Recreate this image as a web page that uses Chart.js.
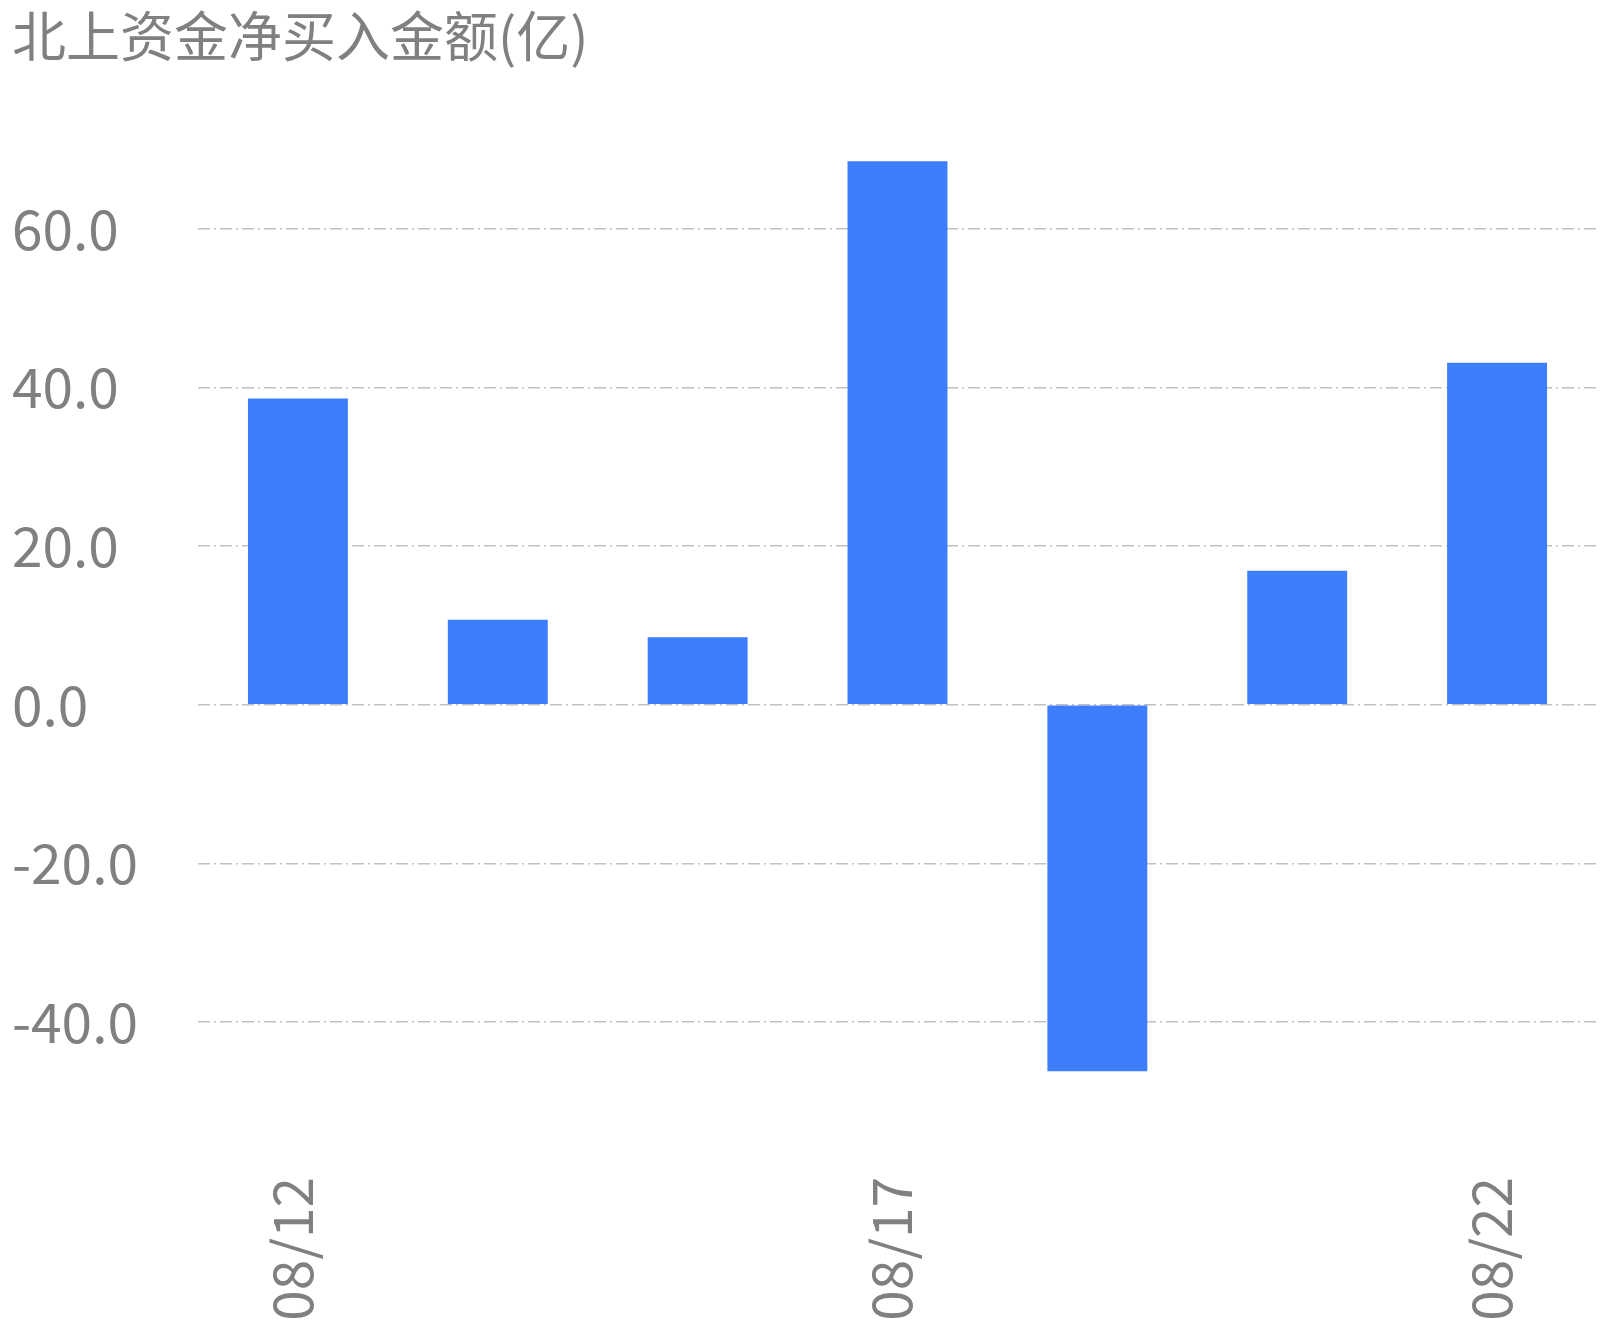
<!DOCTYPE html>
<html>
<head>
<meta charset="utf-8">
<script src="https://cdn.jsdelivr.net/npm/chart.js@4"></script>
<style>
  html, body { margin: 0; padding: 0; background: #fff; }
  #wrap { width: 1606px; height: 1330px; }
</style>
</head>
<body>
<div id="wrap"><canvas id="chart" width="1606" height="1330"></canvas></div>
<script>
const titleText = '北上资金净买入金额(亿)';
const dates = ['08/12', '08/15', '08/16', '08/17', '08/18', '08/19', '08/22'];
const netBuy = [38.6, 10.7, 8.5, 68.5, -46.2, 16.9, 43.1];
const shownDates = ['08/12', '08/17', '08/22'];
const yTicks = [-40, -20, 0, 20, 40, 60];

const FONT = "'Noto Sans CJK SC', 'Noto Sans', sans-serif";
const TEXT = '#808080';

Chart.defaults.font.family = FONT;
Chart.defaults.color = TEXT;

new Chart(document.getElementById('chart'), {
  type: 'bar',
  data: {
    labels: dates,
    datasets: [{
      data: netBuy,
      backgroundColor: '#3d7eff',
      borderWidth: 0,
      barPercentage: 0.5,
      categoryPercentage: 1.0
    }]
  },
  options: {
    responsive: false,
    animation: false,
    layout: { padding: { left: 12, right: 9, top: 0, bottom: 0 } },
    plugins: {
      legend: { display: false },
      tooltip: { enabled: false },
      title: {
        display: true,
        text: titleText,
        align: 'start',
        color: TEXT,
        font: { size: 54, weight: 'normal' },
        padding: { top: 4, bottom: 41 }
      }
    },
    scales: {
      x: {
        grid: { display: false, drawTicks: false },
        border: { display: false },
        afterFit: axis => { axis.height = 189; },
        ticks: {
          autoSkip: false,
          minRotation: 90,
          maxRotation: 90,
          padding: 36,
          labelOffset: -6,
          font: { size: 55 },
          color: TEXT,
          callback: function (value) {
            const lbl = this.getLabelForValue(value);
            return shownDates.includes(lbl) ? lbl : '';
          }
        }
      },
      y: {
        min: -55,
        max: 75,
        afterBuildTicks: axis => {
          axis.ticks = yTicks.map(v => ({ value: v }));
        },
        afterFit: axis => { axis.width = 186; },
        grid: {
          color: '#c0c0c0',
          lineWidth: 1.5,
          drawTicks: false
        },
        border: { display: false, dash: [12, 4, 2, 4] },
        ticks: {
          crossAlign: 'far',
          padding: 0,
          font: { size: 55 },
          color: TEXT,
          callback: v => v.toFixed(1)
        }
      }
    }
  }
});
</script>
</body>
</html>
